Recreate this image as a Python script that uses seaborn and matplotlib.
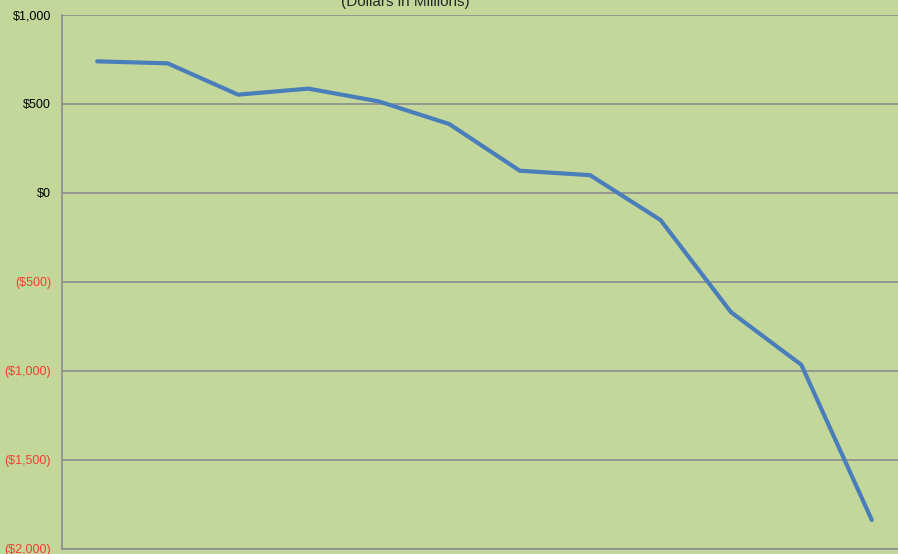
import matplotlib
matplotlib.use("Agg")
import matplotlib.pyplot as plt
import seaborn as sns
import pandas as pd

# values (dollars in millions)
periods = list(range(1, 13))
values = [738, 727, 551, 585, 513, 386, 124, 99, -153, -670, -966, -1837]
ytick_values = [1000, 500, 0, -500, -1000, -1500, -2000]
ytick_labels = ["$1,000", "$500", "$0", "($500)", "($1,000)", "($1,500)", "($2,000)"]

df = pd.DataFrame({"period": periods, "value": values})

sns.set_theme(style="white")
plt.rcParams["font.family"] = ["Liberation Sans", "DejaVu Sans"]

bg = "#C4D79B"
fig = plt.figure(figsize=(8.98, 5.54), dpi=100)
fig.patch.set_facecolor(bg)
ax = fig.add_axes([62 / 898, 5 / 554, 845 / 898, 534.3 / 554])
ax.set_facecolor(bg)

x = list(range(len(periods)))
sns.lineplot(x=x, y=df["value"], ax=ax, color="#4A7EBB", linewidth=3)

ax.set_xlim(-0.5, len(periods) - 0.5)
ax.set_ylim(-2000, 1000)
ax.set_yticks(ytick_values)
ax.set_yticklabels(ytick_labels, fontsize=9)
for lab, v in zip(ax.get_yticklabels(), ytick_values):
    lab.set_color("#F04030" if v < 0 else "black")
ax.set_xticks([])
ax.set_xlabel("")
ax.set_ylabel("")

ax.grid(axis="y", color="#8C8C8C", linewidth=1.2)
ax.tick_params(axis="y", length=3, color="#8C8C8C", width=1.2, pad=5)
for side in ["top", "right"]:
    ax.spines[side].set_visible(False)
ax.spines["left"].set_color("#8C8C8C")
ax.spines["left"].set_linewidth(1.2)
ax.spines["bottom"].set_color("#8C8C8C")
ax.spines["bottom"].set_linewidth(1.2)

fig.text(405 / 898, 1 - 6 / 554, "(Dollars in Millions)", ha="center", va="baseline", fontsize=11)

fig.savefig("out.png", dpi=100, facecolor=bg)
